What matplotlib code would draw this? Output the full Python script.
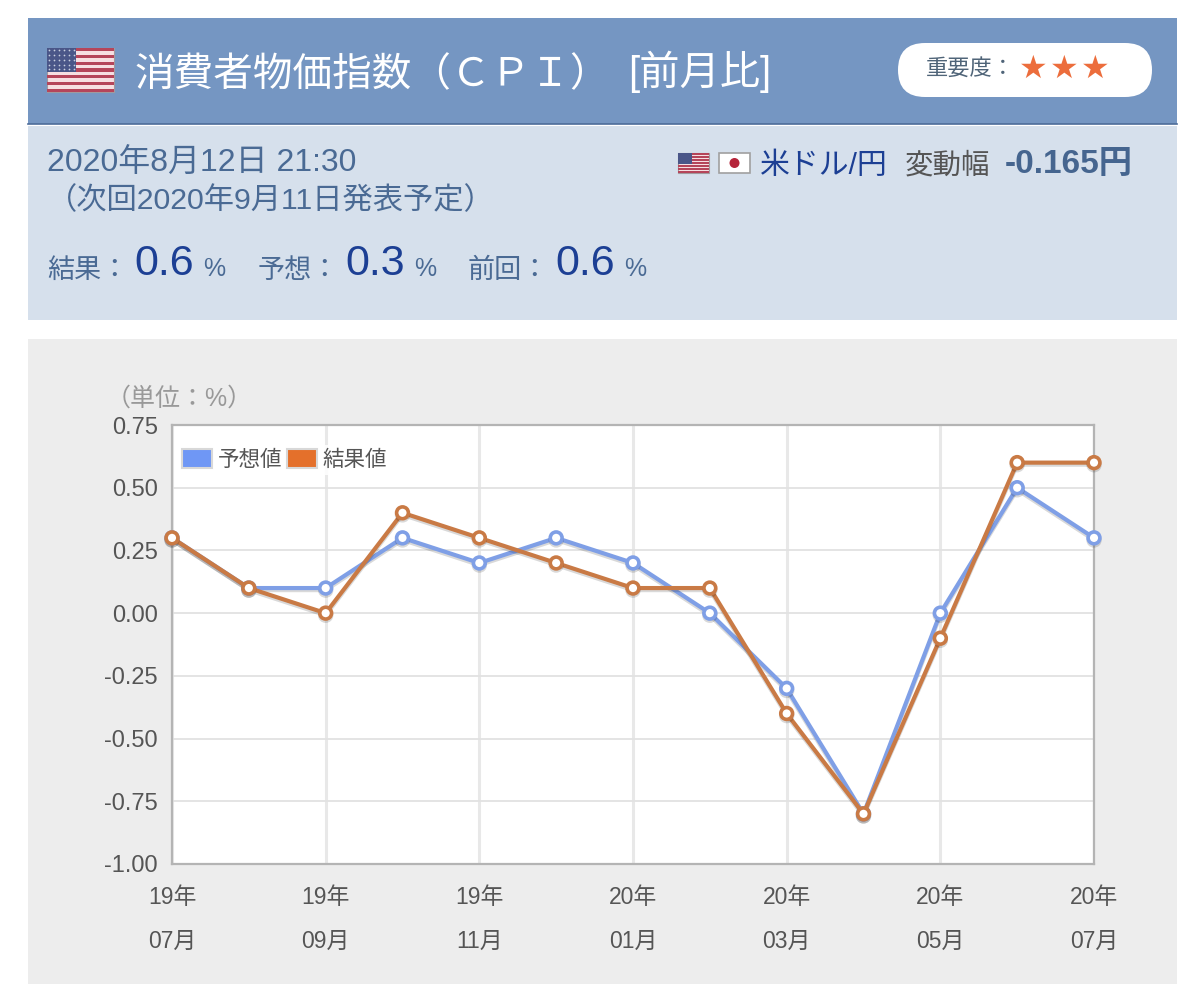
import matplotlib
matplotlib.use('Agg')
import matplotlib.pyplot as plt
import matplotlib.patheffects as pe
from matplotlib.patches import Rectangle, FancyBboxPatch, Patch, Circle

plt.rcParams['font.family'] = ['Liberation Sans', 'Noto Sans CJK JP', 'DejaVu Sans']

months = ['19年\n07月', '', '19年\n09月', '', '19年\n11月', '', '20年\n01月', '',
          '20年\n03月', '', '20年\n05月', '', '20年\n07月']
forecast = [0.3, 0.1, 0.1, 0.3, 0.2, 0.3, 0.2, 0.0, -0.3, -0.8, 0.0, 0.5, 0.3]
actual = [0.3, 0.1, 0.0, 0.4, 0.3, 0.2, 0.1, 0.1, -0.4, -0.8, -0.1, 0.6, 0.6]
y_ticks = [0.75, 0.50, 0.25, 0.00, -0.25, -0.50, -0.75, -1.00]

W, H = 1200, 984
fig = plt.figure(figsize=(W / 100, H / 100), dpi=100, facecolor='white')

# page furniture, in pixel coordinates
bg = fig.add_axes([0, 0, 1, 1])
bg.set_xlim(0, W)
bg.set_ylim(H, 0)
bg.axis('off')


def draw_us_flag(x, y, w, h, dots):
    bg.add_patch(Rectangle((x, y), w, h, fc='#f6dfe2', ec='#a09a9e', lw=0.8))
    for i in range(7):
        bg.add_patch(Rectangle((x, y + i * h / 6.5), w, h / 13, fc='#b5455a', lw=0))
    bg.add_patch(Rectangle((x, y), w * 0.44, h * 0.54, fc='#4a5688', lw=0))
    if dots:
        for r in range(5):
            for c in range(6):
                bg.plot(x + w * 0.44 * (c + 0.5) / 6, y + h * 0.54 * (r + 0.5) / 5, '.',
                        color='#c9cfe0', ms=2.5, mew=0)


bg.add_patch(Rectangle((28, 18), 1149, 106, fc='#7596c2', lw=0))
bg.plot([28, 1177], [124, 124], color='#4d6c99', lw=1.2)
bg.add_patch(Rectangle((28, 126), 1149, 194, fc='#d6e0ec', lw=0))
bg.add_patch(Rectangle((28, 339), 1149, 645, fc='#ededed', lw=0))

draw_us_flag(47, 48, 67, 44, True)
bg.text(134, 75, '消費者物価指数（ＣＰＩ）', color='white', fontsize=28.5, va='center', ha='left')
bg.text(628, 72, '[前月比]', color='white', fontsize=29, va='center', ha='left')

bg.add_patch(FancyBboxPatch((898, 43), 254, 54, boxstyle='round,pad=0,rounding_size=27',
                            fc='white', lw=0))
bg.text(926, 69, '重要度：', color='#4f6478', fontsize=16, va='center', ha='left')
for sx in [1033, 1064, 1095]:
    bg.text(sx, 69, '★', color='#ec6d3c', fontsize=23, va='center', ha='center',
            family=['DejaVu Sans'])

draw_us_flag(678, 153, 31, 20, False)
bg.add_patch(Rectangle((719, 153), 31, 20, fc='white', ec='#a0a0a0', lw=1.2))
bg.add_patch(Circle((734.5, 163), 5, fc='#b5243a', lw=0))
bg.text(760, 166, '米ドル/円', color='#1c3f94', fontsize=21.5, va='center', ha='left')
bg.text(905, 166, '変動幅', color='#555555', fontsize=20.5, va='center', ha='left')
bg.text(1005, 165, '-0.165円', color='#45658f', fontsize=24, va='center', ha='left',
        fontweight='bold')

bg.text(47, 164, '2020年8月12日 21:30', color='#4a6a94', fontsize=23, va='center', ha='left')
bg.text(47, 201, '（次回2020年9月11日発表予定）', color='#4a6a94', fontsize=21.8, va='center', ha='left')

for x0, label, val in [(47, '結果：', '0.6'), (258, '予想：', '0.3'), (468, '前回：', '0.6')]:
    bg.text(x0, 271, label, color='#4a6a94', fontsize=19.5, va='center', ha='left')
    bg.text(x0 + 87, 264, val, color='#1c3f94', fontsize=31, va='center', ha='left')
    bg.text(x0 + 156, 269, '%', color='#4a6a94', fontsize=18, va='center', ha='left')

bg.text(106, 399, '（単位：%）', color='#999999', fontsize=18, va='center', ha='left')

# chart
ax = fig.add_axes([172 / W, 1 - 864 / H, (1094 - 172) / W, (864 - 425) / H])
ax.set_facecolor('white')
x = list(range(len(months)))
ax.set_xlim(0, 12)
ax.set_ylim(-1.0, 0.75)
ax.set_yticks(y_ticks)
ax.set_yticklabels([f'{v:.2f}' for v in y_ticks], fontsize=17, color='#555555')
ax.set_xticks(x[::2])
ax.set_xticklabels(months[::2], fontsize=16.5, color='#555555', linespacing=2.15)
ax.tick_params(length=0)
ax.tick_params(axis='y', pad=10)
ax.tick_params(axis='x', pad=16)
ax.grid(axis='y', color='#e2e2e2', lw=1.3)
ax.grid(axis='x', color='#e8e8e8', lw=2.2)
ax.set_axisbelow(True)
for side in ax.spines.values():
    side.set_color('#b4b4b4')
    side.set_linewidth(1.6)

shadow = [pe.SimpleLineShadow(offset=(0, -1.5), shadow_color='#000000', alpha=0.15), pe.Normal()]
ax.plot(x, forecast, color='#7f9fe6', lw=3, marker='o', ms=8.5, mfc='white', mec='#7f9fe6', mew=2.6,
        clip_on=False, path_effects=shadow, zorder=3)
ax.plot(x, actual, color='#c97a45', lw=3, marker='o', ms=8.5, mfc='white', mec='#c97a45', mew=2.6,
        clip_on=False, path_effects=shadow, zorder=4)

handles = [Patch(fc='#6f97f5', ec='#d8d8d8', lw=1.5, label='予想値'),
           Patch(fc='#e4702b', ec='#d8d8d8', lw=1.5, label='結果値')]
leg = ax.legend(handles=handles, loc='upper left', bbox_to_anchor=(0.006, 0.955), ncol=2,
                frameon=True, framealpha=0.85, edgecolor='none', facecolor='white',
                fontsize=15.5, handlelength=1.4, handleheight=1.0, handletextpad=0.25,
                columnspacing=0.25, borderpad=0.2, borderaxespad=0)
for t in leg.get_texts():
    t.set_color('#555555')

fig.savefig('out.png', dpi=100)
